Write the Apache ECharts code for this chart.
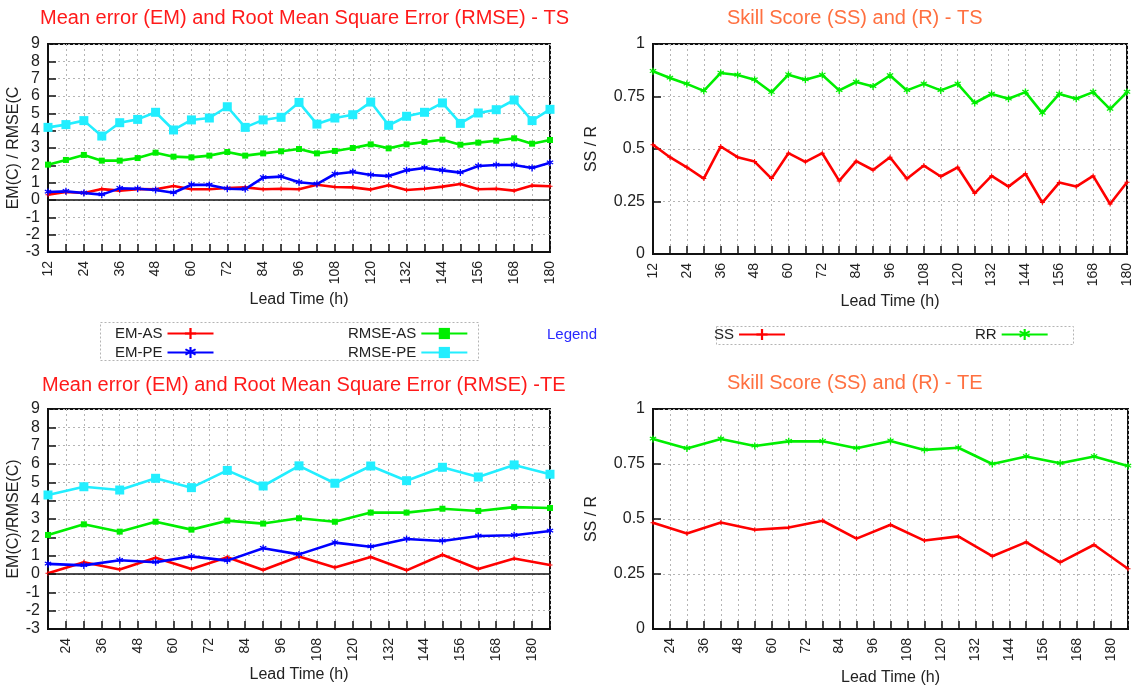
<!DOCTYPE html>
<html>
<head>
<meta charset="utf-8">
<title>EM / RMSE and Skill Score - TS / TE</title>
<script src="https://cdn.jsdelivr.net/npm/echarts@6/dist/echarts.min.js"></script>
<style>
  html, body { margin: 0; padding: 0; background: #fff; }
  #chart { width: 1138px; height: 691px; }
</style>
</head>
<body>
<div id="chart"></div>
<script>
// Lead times (hours)
const leadTS = [12, 18, 24, 30, 36, 42, 48, 54, 60, 66, 72, 78, 84, 90, 96, 102, 108, 114, 120, 126, 132, 138, 144, 150, 156, 162, 168, 174, 180];
const leadTE = [18, 30, 42, 54, 66, 78, 90, 102, 114, 126, 138, 150, 162, 174, 186];

// TS: mean error and RMSE (C)
const emAsTS   = [0.31, 0.46, 0.40, 0.63, 0.54, 0.63, 0.62, 0.81, 0.62, 0.62, 0.69, 0.73, 0.62, 0.65, 0.62, 0.88, 0.75, 0.73, 0.60, 0.85, 0.58, 0.65, 0.77, 0.92, 0.62, 0.65, 0.54, 0.83, 0.79];
const emPeTS   = [0.46, 0.50, 0.40, 0.31, 0.67, 0.65, 0.58, 0.42, 0.88, 0.87, 0.65, 0.63, 1.29, 1.35, 1.02, 0.92, 1.50, 1.62, 1.44, 1.38, 1.71, 1.85, 1.71, 1.58, 1.96, 2.02, 2.02, 1.85, 2.15];
const rmseAsTS = [2.04, 2.31, 2.60, 2.27, 2.27, 2.42, 2.73, 2.50, 2.46, 2.56, 2.77, 2.56, 2.69, 2.81, 2.94, 2.69, 2.83, 3.00, 3.21, 2.98, 3.21, 3.35, 3.48, 3.19, 3.31, 3.42, 3.56, 3.25, 3.46];
const rmsePeTS = [4.19, 4.35, 4.58, 3.69, 4.46, 4.65, 5.06, 4.04, 4.62, 4.73, 5.38, 4.19, 4.62, 4.77, 5.63, 4.38, 4.73, 4.92, 5.65, 4.31, 4.83, 5.06, 5.60, 4.42, 5.02, 5.21, 5.77, 4.58, 5.23];

// TS: skill score and correlation
const ssTS = [0.520, 0.461, 0.413, 0.359, 0.512, 0.461, 0.440, 0.359, 0.480, 0.439, 0.480, 0.348, 0.442, 0.400, 0.461, 0.358, 0.421, 0.369, 0.413, 0.289, 0.372, 0.321, 0.382, 0.245, 0.340, 0.321, 0.372, 0.238, 0.342];
const rrTS = [0.870, 0.838, 0.810, 0.777, 0.862, 0.852, 0.830, 0.770, 0.854, 0.830, 0.852, 0.779, 0.819, 0.798, 0.850, 0.779, 0.810, 0.779, 0.810, 0.719, 0.762, 0.739, 0.771, 0.671, 0.762, 0.739, 0.771, 0.690, 0.771];

// TE: mean error and RMSE (C)
const emAsTE   = [0.04, 0.64, 0.25, 0.89, 0.27, 0.91, 0.22, 0.95, 0.36, 0.93, 0.20, 1.05, 0.27, 0.85, 0.49];
const emPeTE   = [0.55, 0.47, 0.75, 0.64, 0.96, 0.73, 1.40, 1.07, 1.71, 1.49, 1.91, 1.80, 2.07, 2.11, 2.35];
const rmseAsTE = [2.13, 2.71, 2.31, 2.85, 2.42, 2.91, 2.75, 3.04, 2.85, 3.35, 3.35, 3.56, 3.44, 3.65, 3.60];
const rmsePeTE = [4.31, 4.76, 4.58, 5.22, 4.71, 5.65, 4.80, 5.90, 4.95, 5.89, 5.09, 5.82, 5.29, 5.95, 5.44];

// TE: skill score and correlation
const ssTE = [0.483, 0.434, 0.484, 0.451, 0.461, 0.492, 0.411, 0.474, 0.402, 0.421, 0.331, 0.395, 0.303, 0.383, 0.274];
const rrTE = [0.864, 0.821, 0.864, 0.832, 0.853, 0.853, 0.822, 0.855, 0.814, 0.824, 0.750, 0.784, 0.753, 0.784, 0.741];

// Tick ranges: min, max, step
const emTicks = [-3, 9, 1];
const ssTicks = [0, 1, 0.25];
const xAxisName = 'Lead Time (h)';

const FONT = "'Liberation Sans', Arial, sans-serif";
const INK = '#222';

// marker shapes
const PLUS = 'path://M4,0H6V4H10V6H6V10H4V6H0V4H4Z';
const STAR = 'path://M4.2,0H5.8V3.1L8.4,1.4 9.2,2.8 6.6,4.5 9.2,6.2 8.4,7.6 5.8,5.9V10H4.2V5.9L1.6,7.6 0.8,6.2 3.4,4.5 0.8,2.8 1.6,1.4 4.2,3.1Z';

const STYLE = {
  'EM-AS':   { color: '#ff0000', symbol: PLUS, size: 5 },
  'EM-PE':   { color: '#0000ff', symbol: STAR, size: 7 },
  'RMSE-AS': { color: '#00ee00', symbol: 'rect', size: 6 },
  'RMSE-PE': { color: '#22eeff', symbol: 'rect', size: 9 },
  'SS':      { color: '#ff0000', symbol: PLUS, size: 5 },
  'RR':      { color: '#00ee00', symbol: STAR, size: 7 }
};

function pairs(xs, ys) { return xs.map((x, i) => [x, ys[i]]); }

function line(name, idx, xs, ys, zeroLine) {
  const s = STYLE[name];
  const obj = {
    name: name,
    type: 'line',
    xAxisIndex: idx,
    yAxisIndex: idx,
    data: pairs(xs, ys),
    symbol: s.symbol,
    symbolSize: s.size,
    showSymbol: true,
    lineStyle: { color: s.color, width: 2.6 },
    itemStyle: { color: s.color },
    emphasis: { disabled: true },
    z: 3
  };
  if (zeroLine) {
    obj.markLine = {
      silent: true,
      symbol: 'none',
      label: { show: false },
      lineStyle: { color: '#111', width: 1.5, type: 'solid' },
      data: [{ yAxis: 0 }]
    };
  }
  return obj;
}

const xLabelFmt = v => (v % 12 === 0 ? String(v) : '');

function xAxis(idx, min, max, gap) {
  return {
    type: 'value', gridIndex: idx, min: min, max: max, interval: 6,
    name: xAxisName, nameLocation: 'middle', nameGap: gap,
    nameTextStyle: { color: INK, fontSize: 16, fontFamily: FONT },
    axisLine: { show: true, onZero: false, lineStyle: { color: '#111', width: 2 } },
    axisTick: { show: true, inside: true, length: 8, lineStyle: { color: '#111', width: 1.5 } },
    axisLabel: { rotate: 90, margin: 9, color: INK, fontSize: 14, fontFamily: FONT, formatter: xLabelFmt },
    splitLine: { show: true, lineStyle: { color: '#b4b4b4', type: [2, 3], width: 1 } }
  };
}

function yAxis(idx, ticks, name, gap) {
  return {
    type: 'value', gridIndex: idx, min: ticks[0], max: ticks[1], interval: ticks[2],
    name: name, nameLocation: 'middle', nameGap: gap, nameRotate: 90,
    nameTextStyle: { color: INK, fontSize: 16, fontFamily: FONT },
    axisLine: { show: true, onZero: false, lineStyle: { color: '#111', width: 2 } },
    axisTick: { show: true, inside: true, length: 8, lineStyle: { color: '#111', width: 1.5 } },
    axisLabel: { margin: 8, color: INK, fontSize: 16, fontFamily: FONT },
    splitLine: { show: true, lineStyle: { color: '#b4b4b4', type: [2, 3], width: 1 } }
  };
}

const gridBox = { show: true, borderColor: '#111', borderWidth: 2, backgroundColor: 'transparent' };

function titleAt(text, left, top, color) {
  return {
    text: text, left: left, top: top, padding: 0,
    textStyle: { color: color, fontSize: 20, fontWeight: 'normal', fontFamily: FONT }
  };
}

function legendAt(names, left, top, orient, gap) {
  return {
    data: names, left: left, top: top, orient: orient, itemGap: gap,
    padding: 0, align: 'right', itemWidth: 46, itemHeight: 14,
    selectedMode: false,
    textStyle: { color: INK, fontSize: 15, fontFamily: FONT }
  };
}

const option = {
  animation: false,
  backgroundColor: '#fff',
  title: [
    titleAt('Mean error (EM) and Root Mean Square Error (RMSE) - TS', 40, 8, '#ff1a1a'),
    titleAt('Skill Score (SS) and (R) - TS', 727, 8, '#ff7040'),
    titleAt('Mean error (EM) and Root Mean Square Error (RMSE) -TE', 42, 375, '#ff1a1a'),
    titleAt('Skill Score (SS) and (R) - TE', 727, 373, '#ff7040')
  ],
  legend: [
    legendAt(['EM-AS', 'EM-PE'], 115, 326, 'vertical', 4),
    legendAt(['RMSE-AS', 'RMSE-PE'], 348, 326, 'vertical', 4),
    legendAt(['SS', 'RR'], 714, 327, 'horizontal', 189)
  ],
  grid: [
    Object.assign({ left: 48, top: 44, width: 502, height: 208 }, gridBox),
    Object.assign({ left: 653, top: 44, width: 474, height: 210 }, gridBox),
    Object.assign({ left: 48, top: 409, width: 502, height: 220 }, gridBox),
    Object.assign({ left: 653, top: 409, width: 475, height: 220 }, gridBox)
  ],
  xAxis: [
    xAxis(0, leadTS[0], leadTS[leadTS.length - 1], 40),
    xAxis(1, leadTS[0], leadTS[leadTS.length - 1], 40),
    xAxis(2, leadTE[0], leadTE[leadTE.length - 1], 38),
    xAxis(3, leadTE[0], leadTE[leadTE.length - 1], 41)
  ],
  yAxis: [
    yAxis(0, emTicks, 'EM(C) / RMSE(C', 25),
    yAxis(1, ssTicks, 'SS / R', 53),
    yAxis(2, emTicks, 'EM(C)/RMSE(C)', 25),
    yAxis(3, ssTicks, 'SS / R', 53)
  ],
  graphic: [
    { type: 'rect', silent: true, z: 0,
      shape: { x: 100.5, y: 322.5, width: 378, height: 38 },
      style: { fill: 'none', stroke: '#b4b4b4', lineWidth: 1, lineDash: [2, 2] } },
    { type: 'rect', silent: true, z: 0,
      shape: { x: 716.5, y: 326.5, width: 357, height: 18 },
      style: { fill: 'none', stroke: '#b4b4b4', lineWidth: 1, lineDash: [2, 2] } },
    { type: 'text', silent: true, left: 547, top: 327,
      style: { text: 'Legend', fill: '#2a2aff', fontSize: 15, fontFamily: FONT } }
  ],
  series: [
    line('EM-AS', 0, leadTS, emAsTS, true),
    line('EM-PE', 0, leadTS, emPeTS),
    line('RMSE-AS', 0, leadTS, rmseAsTS),
    line('RMSE-PE', 0, leadTS, rmsePeTS),
    line('SS', 1, leadTS, ssTS),
    line('RR', 1, leadTS, rrTS),
    line('EM-AS', 2, leadTE, emAsTE, true),
    line('EM-PE', 2, leadTE, emPeTE),
    line('RMSE-AS', 2, leadTE, rmseAsTE),
    line('RMSE-PE', 2, leadTE, rmsePeTE),
    line('SS', 3, leadTE, ssTE),
    line('RR', 3, leadTE, rrTE)
  ]
};

const chart = echarts.init(document.getElementById('chart'), null, { renderer: 'canvas' });
chart.setOption(option);
</script>
</body>
</html>
